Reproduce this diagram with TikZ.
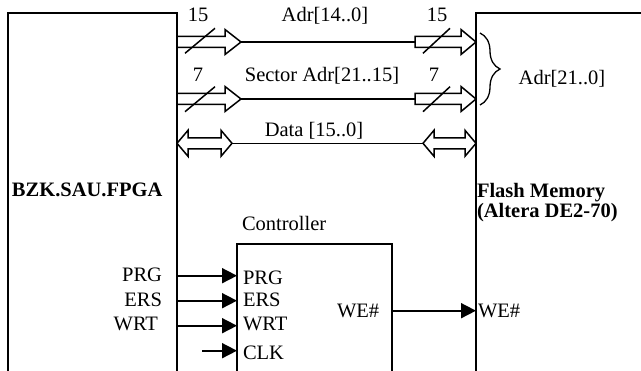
\documentclass[tikz,border=0pt]{standalone}
\usepackage{fontspec}
\setmainfont{Liberation Serif}
\usetikzlibrary{arrows.meta,decorations.pathreplacing}
\begin{document}
\begin{tikzpicture}[x=1pt,y=-1pt,
  every node/.style={font=\fontsize{20.5}{24}\selectfont, inner sep=0pt, outer sep=0pt},
  blk/.style={draw, line width=1.3pt, rectangle, anchor=north west},
  ctrlbox/.style={draw, line width=2.6pt, rectangle, anchor=north west},
  sig/.style={line width=1.8pt, -{Triangle[length=15pt,width=15pt]}},
  bus/.style={line width=1.5pt, line join=miter},
  wire/.style={line width=1.5pt},
  lbl/.style={anchor=base},
  lblw/.style={anchor=base west},
  lble/.style={anchor=base east},
  bracestyle/.style={line width=1.3pt, decorate, decoration={brace, amplitude=20pt, aspect=0.5}}
  ]
\useasboundingbox (0,0) rectangle (641,371);
\clip (0,0) rectangle (641,371);

% boxes
\node[blk, minimum width=169pt, minimum height=420pt] (fpga) at (8,13) {};
\node[blk, minimum width=250pt, minimum height=420pt] (flash) at (476,13) {};
\node[ctrlbox, minimum width=155pt, minimum height=220pt] (ctrl) at (237,244) {};

% row 1 bus : Adr[14..0]
\draw[bus] (177,36.5) -- (225,36.5) -- (225,29.5) -- (241,42) -- (225,54.5) -- (225,47.5) -- (177,47.5);
\coordinate (b1l) at (241,42);
\coordinate (b1r) at (415,42);
\draw[wire] (b1l) -- (b1r);
\draw[bus] (415,36.5) -- (461,36.5) -- (461,29.5) -- (476,42) -- (461,54.5) -- (461,47.5) -- (415,47.5) -- cycle;
\draw[wire] (185,53.3) -- (215,28.3);
\draw[wire] (423,53.3) -- (450,28.3);

% row 2 bus : Sector Adr
\draw[bus] (177,93.5) -- (225,93.5) -- (225,86.5) -- (241,99) -- (225,111.5) -- (225,104.5) -- (177,104.5);
\coordinate (b2l) at (241,99);
\coordinate (b2r) at (415,99);
\draw[wire] (b2l) -- (b2r);
\draw[bus] (415,93.5) -- (461,93.5) -- (461,86.5) -- (476,99) -- (461,111.5) -- (461,104.5) -- (415,104.5) -- cycle;
\draw[wire] (185,111.7) -- (215,86.7);
\draw[wire] (423,111.7) -- (450,86.7);

% row 3 bus : Data
\draw[bus] (177,143.3) -- (188,130.3) -- (188,137.8) -- (221,137.8) -- (221,130.3) -- (232,143.3)
  -- (221,156.3) -- (221,148.8) -- (188,148.8) -- (188,156.3) -- cycle;
\coordinate (b3l) at (232,143.3);
\coordinate (b3r) at (423,143.3);
\draw[wire] (b3l) -- (b3r);
\draw[bus] (423,143.3) -- (434,130.3) -- (434,137.8) -- (465,137.8) -- (465,130.3) -- (476,143.3)
  -- (465,156.3) -- (465,148.8) -- (434,148.8) -- (434,156.3) -- cycle;

% brace
\coordinate (brt) at (480,33);
\coordinate (brb) at (480,105);
\draw[bracestyle] (brt) -- (brb);

% bus labels
\node[lbl] (n15a) at (198,22) {15};
\node[lbl] (adr14) at (325,22) {Adr[14..0]};
\node[lbl] (n15b) at (437,22) {15};
\node[lbl] (n7a) at (198,82) {7};
\node[lbl] (secadr) at (322,82) {Sector Adr[21..15]};
\node[lbl] (n7b) at (434,82) {7};
\node[lbl] (data) at (314,137) {Data [15..0]};
\node[lbl] (adr21) at (562,85) {Adr[21..0]};

% box titles
\node[lblw] (fpgat) at (12,197) {\bfseries BZK.SAU.FPGA};
\node[lblw] (flasht1) at (477,198) {\bfseries Flash Memory};
\node[lblw] (flasht2) at (477,218) {\bfseries (Altera DE2-70)};
\node[lblw] (ctrlt) at (242,231) {Controller};

% signal labels outside
\node[lble] (oprg) at (162,282) {PRG};
\node[lble] (oers) at (162,307) {ERS};
\node[lble] (owrt) at (158,331) {WRT};

% signal labels inside
\node[lblw] (iprg) at (243,285) {PRG};
\node[lblw] (iers) at (243,307) {ERS};
\node[lblw] (iwrt) at (243,331) {WRT};
\node[lblw] (iclk) at (243,360) {CLK};
\node[lblw] (iwe) at (337,318) {WE\#};
\node[lblw] (owe) at (478,318) {WE\#};

% signal arrows
\coordinate (yprg) at (0,275.7);
\coordinate (yers) at (0,300.7);
\coordinate (ywrt) at (0,325.7);
\coordinate (clks) at (202,350.7);
\coordinate (ywe) at (0,310.7);
\draw[sig] (fpga.east |- yprg) -- (ctrl.west |- yprg);
\draw[sig] (fpga.east |- yers) -- (ctrl.west |- yers);
\draw[sig] (fpga.east |- ywrt) -- (ctrl.west |- ywrt);
\draw[sig] (clks) -- (ctrl.west |- clks);
\draw[sig] (ctrl.east |- ywe) -- (flash.west |- ywe);
\end{tikzpicture}
\end{document}
